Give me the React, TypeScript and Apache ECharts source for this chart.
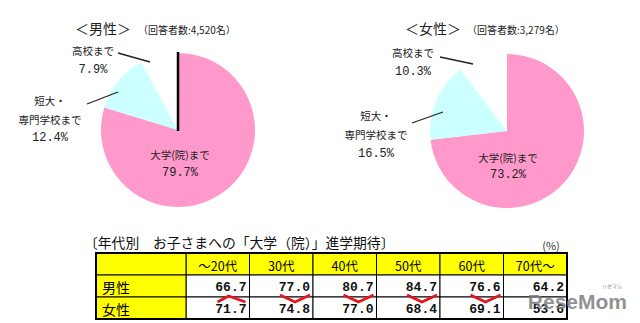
import React, { useEffect, useRef } from 'react';
import * as echarts from 'echarts';

// ---------- data ----------
const pieCategories = ['大学(院)まで', '短大・\n専門学校まで', '高校まで'];
const maleShares = [79.7, 12.4, 7.9];
const femaleShares = [73.2, 16.5, 10.3];
const maleRespondents = '4,520';
const femaleRespondents = '3,279';

const ageGroups = ['～20代', '30代', '40代', '50代', '60代', '70代～'];
const rowLabels = ['男性', '女性'];
const maleByAge = [66.7, 77.0, 80.7, 84.7, 76.6, 64.2];
const femaleByAge = [71.7, 74.8, 77.0, 68.4, 69.1, 53.6];
const diffMarks = ['up', 'down', 'down', 'down', 'down', ''];

// ---------- layout / style ----------
const PIE_R = 77;
const PIE_COLORS = ['#FF99CC', '#CCFFFF', '#FFFFFF'];
const YELLOW = '#FFFF00';
const JP = '"Noto Sans CJK JP", "Noto Sans", sans-serif';
const MONO = '"Liberation Mono", "DejaVu Sans Mono", monospace';

const pies = [
  {
    title: rowLabels[0], respondents: maleRespondents, shares: maleShares,
    cx: 178, cy: 130, titleX: 75, noteX: 138, edgeLine: true,
    labels: [
      { x: 180, ys: [154, 173] },
      { x: 50, ys: [100, 119, 138] },
      { x: 93, ys: [50, 70] },
    ],
    leaders: [null, [87, 104, 118, 92], [118, 53, 150, 62]],
  },
  {
    title: rowLabels[1], respondents: femaleRespondents, shares: femaleShares,
    cx: 507, cy: 131, titleX: 405, noteX: 467, edgeLine: false,
    labels: [
      { x: 508, ys: [157, 175] },
      { x: 376, ys: [115, 134, 154] },
      { x: 413, ys: [52, 72] },
    ],
    leaders: [null, [412, 123, 443, 112], [440, 57, 473, 64]],
  },
];

const TABLE = { left: 186, top: 253, width: 381, height: 66, labelW: 90 };

export default function App() {
  const ref = useRef<HTMLDivElement>(null);

  useEffect(() => {
    if (!ref.current) return;
    const chart = echarts.init(ref.current, undefined, { renderer: 'svg' });

    const graphic: any[] = [];
    pies.forEach((p) => {
      graphic.push({
        type: 'text', x: p.titleX, y: 28,
        style: { text: `＜${p.title}＞`, fontSize: 14, fontFamily: JP, fill: '#222', align: 'left', verticalAlign: 'middle' },
      });
      graphic.push({
        type: 'text', x: p.noteX, y: 29,
        style: { text: `（回答者数:${p.respondents}名）`, fontSize: 10, fontFamily: JP, fill: '#222', align: 'left', verticalAlign: 'middle' },
      });
      if (p.edgeLine) {
        graphic.push({
          type: 'line', z: 10,
          shape: { x1: p.cx, y1: p.cy - PIE_R - 1, x2: p.cx, y2: p.cy + 1 },
          style: { stroke: '#000', lineWidth: 2.5 },
        });
      }
      pieCategories.forEach((name, k) => {
        const lines = [...name.split('\n'), `${p.shares[k].toFixed(1)}%`];
        const lay = p.labels[k];
        lines.forEach((ln, j) => {
          const isPct = j === lines.length - 1;
          graphic.push({
            type: 'text', x: lay.x, y: lay.ys[j], z: 10,
            style: {
              text: ln, fontSize: isPct ? 12 : 10.5, fontFamily: isPct ? MONO : JP,
              fill: '#222', align: 'center', verticalAlign: 'middle',
            },
          });
        });
        const ld = p.leaders[k];
        if (ld) {
          graphic.push({
            type: 'line', z: 10,
            shape: { x1: ld[0], y1: ld[1], x2: ld[2], y2: ld[3] },
            style: { stroke: '#222', lineWidth: 1.3 },
          });
        }
      });
    });

    graphic.push({
      type: 'text', x: 84, y: 242,
      style: { text: '〔年代別　お子さまへの「大学（院）」進学期待〕', fontSize: 13.8, fontFamily: JP, fill: '#111', align: 'left', verticalAlign: 'middle' },
    });
    graphic.push({
      type: 'text', x: 551, y: 245,
      style: { text: '(%)', fontSize: 11, fontFamily: JP, fill: '#333', align: 'center', verticalAlign: 'middle' },
    });
    graphic.push({
      type: 'text', x: 627, y: 301, z: 100,
      style: { text: 'ReseMom', fontSize: 21, fontWeight: 'bold', fontFamily: '"Liberation Sans", Arial, sans-serif', fill: '#7d7d7d', opacity: 0.85, align: 'right', verticalAlign: 'middle' },
    });
    graphic.push({
      type: 'text', x: 612, y: 285, z: 100,
      style: { text: 'リセマム', fontSize: 5, fontFamily: JP, fill: '#888', align: 'center', verticalAlign: 'middle' },
    });

    const renderItem = (params: any, api: any) => {
      const i = api.value(0);
      const [cx, cyH] = api.coord([i, 0]);
      const cyM = api.coord([i, 1])[1];
      const cyF = api.coord([i, 2])[1];
      const [bw, bh] = api.size([1, 1]);
      const x0 = cx - bw / 2;
      const rowsY = [cyH, cyM, cyF];
      const children: any[] = [];
      rowsY.forEach((cy, r) => {
        children.push({
          type: 'rect', z2: 1,
          shape: { x: x0, y: cy - bh / 2, width: bw, height: bh },
          style: { fill: r === 0 ? YELLOW : '#fff', stroke: '#000', lineWidth: 1 },
        });
      });
      children.push({
        type: 'text', z2: 5, x: cx, y: cyH + 1,
        style: { text: ageGroups[i], fontSize: 12.5, fontFamily: JP, fill: '#000', align: 'center', verticalAlign: 'middle' },
      });
      const tx = x0 + bw - 3;
      [maleByAge[i], femaleByAge[i]].forEach((v, r) => {
        children.push({
          type: 'text', z2: 6, x: tx, y: rowsY[r + 1] + 1,
          style: { text: v.toFixed(1), fontSize: 13, fontWeight: 'bold', fontFamily: MONO, fill: '#111', align: 'right', verticalAlign: 'middle' },
        });
      });
      const mk = diffMarks[i];
      if (mk) {
        const mx = tx - 15;
        const yb = cyM + bh / 2;
        const pts = mk === 'up'
          ? [[mx - 14, yb + 5], [mx - 3, yb - 1], [mx + 14, yb + 5]]
          : [[mx - 15, yb - 2], [mx, yb + 5], [mx + 15, yb - 2]];
        children.push({
          type: 'polyline', z2: 4,
          shape: { points: pts },
          style: { stroke: '#E5141E', lineWidth: 2.8, fill: null },
        });
      }
      if (i === 0) {
        const lx = x0 - TABLE.labelW;
        rowsY.forEach((cy, r) => {
          children.push({
            type: 'rect', z2: 1,
            shape: { x: lx, y: cy - bh / 2, width: TABLE.labelW, height: bh },
            style: { fill: YELLOW, stroke: '#000', lineWidth: 1 },
          });
          if (r > 0) {
            children.push({
              type: 'text', z2: 5, x: lx + 6, y: cy + 1,
              style: { text: rowLabels[r - 1], fontSize: 14, fontFamily: JP, fill: '#000', align: 'left', verticalAlign: 'middle' },
            });
          }
        });
        children.push({
          type: 'rect', z2: 20,
          shape: { x: lx, y: cyH - bh / 2, width: TABLE.labelW + bw * ageGroups.length, height: bh * 3 },
          style: { fill: null, stroke: '#000', lineWidth: 2 },
        });
      }
      return { type: 'group', children };
    };

    const pieSeries = pies.map((p) => ({
      type: 'pie',
      center: [p.cx, p.cy],
      radius: PIE_R,
      startAngle: 90,
      clockwise: true,
      silent: true,
      label: { show: false },
      labelLine: { show: false },
      itemStyle: { borderWidth: 0 },
      emphasis: { disabled: true },
      data: pieCategories.map((n, k) => ({ name: n, value: p.shares[k], itemStyle: { color: PIE_COLORS[k] } })),
    }));

    chart.setOption({
      animation: false,
      backgroundColor: '#fff',
      grid: { left: TABLE.left, top: TABLE.top, width: TABLE.width, height: TABLE.height, containLabel: false },
      xAxis: { type: 'category', data: ageGroups, show: false },
      yAxis: { type: 'category', data: ['header', ...rowLabels], inverse: true, show: false },
      series: [
        ...pieSeries,
        {
          type: 'custom',
          renderItem,
          silent: true,
          data: ageGroups.map((_, i) => [i, 0]),
        },
      ],
      graphic,
    });

    return () => chart.dispose();
  }, []);

  return <div ref={ref} style={{ position: 'fixed', left: 0, top: 0, width: 640, height: 323 }} />;
}
